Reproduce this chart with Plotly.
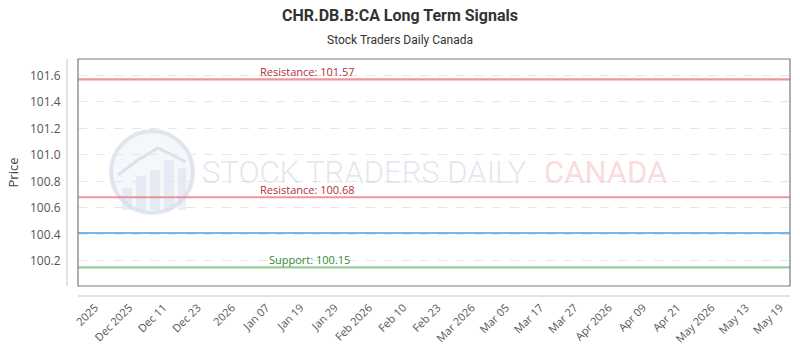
import plotly.graph_objects as go

# ---- data ----
tick_labels = ["2025", "Dec 2025", "Dec 11", "Dec 23", "2026", "Jan 07", "Jan 19",
               "Jan 29", "Feb 2026", "Feb 10", "Feb 23", "Mar 2026", "Mar 05",
               "Mar 17", "Mar 27", "Apr 2026", "Apr 09", "Apr 21", "May 2026",
               "May 13", "May 19"]
resistance_levels = [101.57, 100.68]
support_levels = [100.15]
price_level = 100.41
y_ticks = [100.2, 100.4, 100.6, 100.8, 101.0, 101.2, 101.4, 101.6]

W, H = 800, 350
L, R, T, B = 78, 10, 59, 64
PW, PH = W - L - R, H - T - B


def px_x(p):
    return (p - L) / PW


def px_y(p):
    return (H - B - p) / PH


fig = go.Figure()
fig.add_trace(go.Scatter(x=list(range(len(tick_labels))), y=[None] * len(tick_labels),
                         mode="lines", showlegend=False, hoverinfo="skip"))

shapes = []
annotations = []

# watermark logo
shapes.append(dict(type="circle", xref="paper", yref="paper",
                   x0=px_x(111), x1=px_x(193), y0=px_y(213), y1=px_y(131),
                   line=dict(color="rgba(200,212,230,0.55)", width=4),
                   fillcolor="rgba(235,240,248,0.5)", layer="below"))
for bx0, bx1, by in [(122, 132, 188), (136, 146, 176), (150, 160, 170), (164, 174, 160), (178, 186, 168)]:
    shapes.append(dict(type="rect", xref="paper", yref="paper",
                       x0=px_x(bx0), x1=px_x(bx1), y0=px_y(210), y1=px_y(by),
                       line=dict(width=0), fillcolor="rgba(210,220,235,0.45)", layer="below"))
shapes.append(dict(type="path", xref="paper", yref="paper",
                   path="M {} {} L {} {} L {} {} L {} {}".format(
                       px_x(118), px_y(175), px_x(138), px_y(160), px_x(158), px_y(148), px_x(186), px_y(162)),
                   line=dict(color="rgba(200,212,230,0.6)", width=3), layer="below"))
annotations.append(dict(xref="paper", yref="paper", x=px_x(200), y=px_y(172),
                        xanchor="left", yanchor="middle", showarrow=False,
                        text="STOCK TRADERS DAILY",
                        font=dict(family="Roboto", size=31, weight=300,
                                  color="rgba(200,208,222,0.5)")))
annotations.append(dict(xref="paper", yref="paper", x=px_x(542), y=px_y(172),
                        xanchor="left", yanchor="middle", showarrow=False,
                        text="CANADA",
                        font=dict(family="Roboto", size=31,
                                  color="rgba(245,185,190,0.5)")))

# level lines
for v in resistance_levels:
    shapes.append(dict(type="line", xref="paper", yref="y", x0=0, x1=1, y0=v, y1=v,
                       line=dict(color="rgba(236,130,138,0.85)", width=2.2)))
    annotations.append(dict(xref="paper", yref="y", x=px_x(307), y=v, yshift=8,
                            text=f"Resistance: {v:.2f}", showarrow=False,
                            xanchor="center", yanchor="middle",
                            font=dict(family="Open Sans", size=11, color="#b0303c")))
for v in support_levels:
    shapes.append(dict(type="line", xref="paper", yref="y", x0=0, x1=1, y0=v, y1=v,
                       line=dict(color="rgba(140,200,140,0.9)", width=2.2)))
    annotations.append(dict(xref="paper", yref="y", x=px_x(309), y=v, yshift=8,
                            text=f"Support: {v:.2f}", showarrow=False,
                            xanchor="center", yanchor="middle",
                            font=dict(family="Open Sans", size=11, color="#2e8b3a")))
shapes.append(dict(type="line", xref="paper", yref="y", x0=0, x1=1, y0=price_level, y1=price_level,
                   line=dict(color="#42a0e6", width=1.6)))

# plot frame and offset axis lines
shapes.append(dict(type="rect", xref="paper", yref="paper", x0=0, x1=1, y0=0, y1=1,
                   line=dict(color="#7a7a7a", width=1.2)))
shapes.append(dict(type="line", xref="paper", yref="paper", x0=px_x(67), x1=px_x(67), y0=0, y1=1,
                   line=dict(color="#c8c8c8", width=1)))
shapes.append(dict(type="line", xref="paper", yref="paper", x0=0, x1=1, y0=px_y(296), y1=px_y(296),
                   line=dict(color="#c8c8c8", width=1)))

fig.update_layout(
    width=W, height=H,
    margin=dict(l=L, r=R, t=T, b=B, autoexpand=False),
    paper_bgcolor="white", plot_bgcolor="white",
    title=dict(text="<b>CHR.DB.B:CA Long Term Signals</b>", x=0.5, xanchor="center",
               y=1 - 15 / H, yanchor="middle",
               font=dict(family="Roboto", size=16, color="#333333")),
    shapes=shapes,
    annotations=annotations + [dict(xref="paper", yref="paper", x=0.5 * (W) / PW - L / PW, y=px_y(40),
                                    text="Stock Traders Daily Canada", showarrow=False,
                                    xanchor="center", yanchor="middle",
                                    font=dict(family="Roboto", size=12, color="#333333"))],
    showlegend=False,
)
fig.update_xaxes(range=[-0.496, 20.29], tickvals=list(range(len(tick_labels))), ticktext=tick_labels,
                 tickangle=-45, showgrid=False, zeroline=False, showline=False, automargin=False,
                 ticks="outside", ticklen=10, tickcolor="rgba(0,0,0,0)",
                 tickfont=dict(family="Open Sans", size=11, color="#555555"))
fig.update_yaxes(range=[100.01, 101.724], tickvals=y_ticks,
                 ticktext=[f"{v:.1f}" for v in y_ticks], automargin=False,
                 showgrid=True, gridcolor="#e6e6e6", griddash="dash", gridwidth=1,
                 zeroline=False, showline=False,
                 ticks="outside", ticklen=14, tickcolor="rgba(0,0,0,0)",
                 tickfont=dict(family="Open Sans", size=12, color="#555555"),
                 title=dict(text="Price", font=dict(family="Open Sans", size=13, color="#444444"), standoff=8))

fig.write_html("out.html")
